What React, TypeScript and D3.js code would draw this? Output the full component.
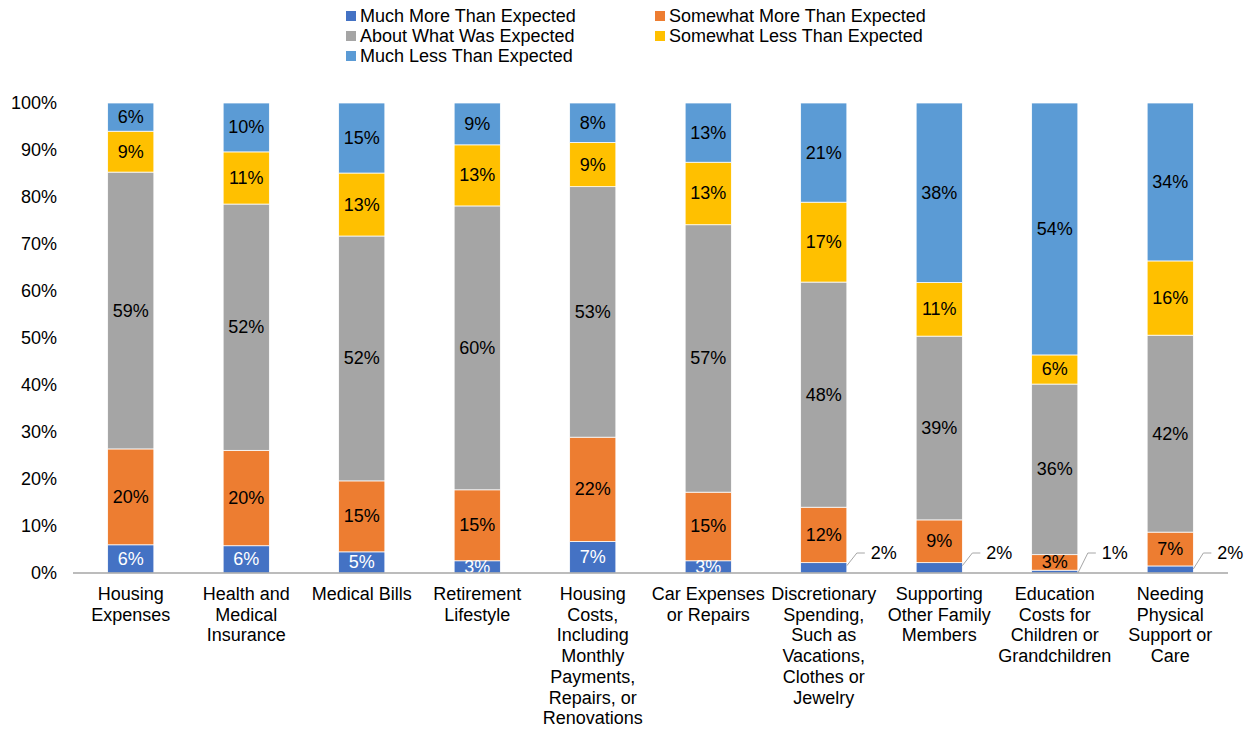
import React from "react";
import * as d3 from "d3";

// categories (wrapped as in the source chart)
const categories: string[][] = [
  ["Housing", "Expenses"],
  ["Health and", "Medical", "Insurance"],
  ["Medical Bills"],
  ["Retirement", "Lifestyle"],
  ["Housing", "Costs,", "Including", "Monthly", "Payments,", "Repairs, or", "Renovations"],
  ["Car Expenses", "or Repairs"],
  ["Discretionary", "Spending,", "Such as", "Vacations,", "Clothes or", "Jewelry"],
  ["Supporting", "Other Family", "Members"],
  ["Education", "Costs for", "Children or", "Grandchildren"],
  ["Needing", "Physical", "Support or", "Care"],
];

const seriesNames = [
  "Much More Than Expected",
  "Somewhat More Than Expected",
  "About What Was Expected",
  "Somewhat Less Than Expected",
  "Much Less Than Expected",
];
const seriesColors = ["#4472C4", "#ED7D31", "#A5A5A5", "#FFC000", "#5B9BD5"];

// values (percent)
const muchMore = [6.0, 5.8, 4.5, 2.6, 6.7, 2.6, 2.2, 2.2, 0.6, 1.5];
const somewhatMore = [20.4, 20.3, 15.1, 15.1, 22.2, 14.6, 11.8, 9.1, 3.3, 7.2];
const aboutExpected = [58.9, 52.4, 52.1, 60.4, 53.3, 56.9, 47.9, 39.1, 36.3, 41.9];
const somewhatLess = [8.7, 11.1, 13.4, 13.0, 9.4, 13.3, 17.0, 11.4, 6.2, 15.8];
const muchLess = [6.0, 10.4, 14.9, 8.9, 8.4, 12.6, 21.1, 38.2, 53.6, 33.6];

const yTicks = [0, 10, 20, 30, 40, 50, 60, 70, 80, 90, 100];

const W = 1248;
const H = 729;
const font = "Liberation Sans, Arial, sans-serif";
const fs = 18;

export default function App() {
  const series = [muchMore, somewhatMore, aboutExpected, somewhatLess, muchLess];
  const idx = categories.map((_, i) => i);

  const x = d3
    .scaleBand<number>()
    .domain(idx)
    .range([73, 1228])
    .paddingInner(0.6)
    .paddingOuter(0.3);
  const y = d3.scaleLinear().domain([0, 100]).range([573, 103]);

  // stacked rows
  const rows = idx.map((i) => {
    const r: any = { i };
    seriesNames.forEach((n, s) => (r[n] = series[s][i]));
    return r;
  });
  const stacked = d3.stack<any>().keys(seriesNames)(rows);

  return (
    <svg
      width={W}
      height={H}
      style={{ position: "absolute", left: 0, top: 0, background: "#fff" }}
      fontFamily={font}
    >
      {/* legend */}
      {seriesNames.map((n, s) => {
        const col = s % 2;
        const row = Math.floor(s / 2);
        const lx = col === 0 ? 346 : 655;
        const ly = 16 + row * 20;
        return (
          <g key={n}>
            <rect x={lx} y={ly - 5} width={10} height={10} fill={seriesColors[s]} />
            <text x={lx + 14} y={ly} dominantBaseline="central" fontSize={fs} fill="#000">
              {n}
            </text>
          </g>
        );
      })}

      {/* y axis tick labels */}
      {yTicks.map((t) => (
        <text
          key={t}
          x={57}
          y={y(t)}
          textAnchor="end"
          dominantBaseline="central"
          fontSize={fs}
          fill="#000"
        >
          {t}%
        </text>
      ))}

      {/* bars */}
      {stacked.map((layer, s) => (
        <g key={layer.key}>
          {layer.map((d, i) => (
            <rect
              key={i}
              x={x(i)}
              y={y(d[1])}
              width={x.bandwidth()}
              height={y(d[0]) - y(d[1])}
              fill={seriesColors[s]}
              stroke="#fff"
              strokeWidth={0.75}
            />
          ))}
        </g>
      ))}

      {/* data labels */}
      {stacked.map((layer, s) => (
        <g key={"l" + layer.key}>
          {layer.map((d, i) => {
            const v = Math.round(series[s][i]);
            const cx = (x(i) as number) + x.bandwidth() / 2;
            const cy = y((d[0] + d[1]) / 2);
            if (s === 0 && i >= 6) {
              const right = (x(i) as number) + x.bandwidth();
              const ly = y(0) - 20;
              return (
                <g key={i}>
                  <polyline
                    points={`${right},${y(d[1]) + 3} ${right + 10},${ly} ${right + 18},${ly}`}
                    fill="none"
                    stroke="#A6A6A6"
                    strokeWidth={1}
                  />
                  <text
                    x={right + 24}
                    y={ly}
                    dominantBaseline="central"
                    fontSize={fs}
                    fill="#000"
                  >
                    {v}%
                  </text>
                </g>
              );
            }
            return (
              <text
                key={i}
                x={cx}
                y={cy}
                textAnchor="middle"
                dominantBaseline="central"
                fontSize={fs}
                fill={s === 0 ? "#fff" : "#000"}
              >
                {v}%
              </text>
            );
          })}
        </g>
      ))}

      {/* x axis */}
      <line x1={73} x2={1228} y1={y(0)} y2={y(0)} stroke="#A6A6A6" strokeWidth={1.5} />
      {categories.map((lines, i) => (
        <text
          key={i}
          x={(x(i) as number) + x.bandwidth() / 2}
          textAnchor="middle"
          fontSize={fs}
          fill="#000"
        >
          {lines.map((l, k) => (
            <tspan key={k} x={(x(i) as number) + x.bandwidth() / 2} y={594 + k * 20.7} dominantBaseline="central">
              {l}
            </tspan>
          ))}
        </text>
      ))}
    </svg>
  );
}
